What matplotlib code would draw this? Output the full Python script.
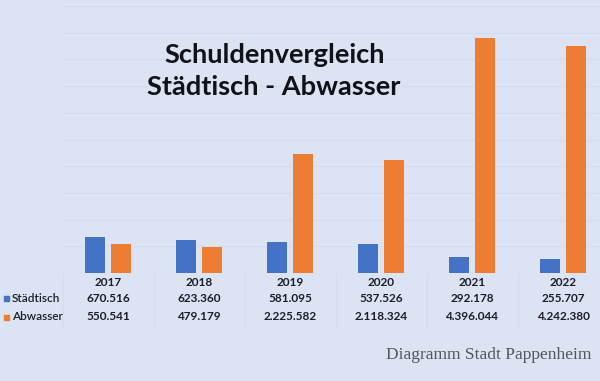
import matplotlib
matplotlib.use("Agg")
import matplotlib.pyplot as plt
from matplotlib.transforms import blended_transform_factory
import numpy as np

years = ["2017", "2018", "2019", "2020", "2021", "2022"]
staedtisch = [670516, 623360, 581095, 537526, 292178, 255707]
abwasser = [550541, 479179, 2225582, 2118324, 4396044, 4242380]
staedtisch_labels = ["670.516", "623.360", "581.095", "537.526", "292.178", "255.707"]
abwasser_labels = ["550.541", "479.179", "2.225.582", "2.118.324", "4.396.044", "4.242.380"]
series_names = ["Städtisch", "Abwasser"]
title_lines = ["Schuldenvergleich", "Städtisch - Abwasser"]
footer = "Diagramm Stadt Pappenheim"

BG = "#dce3f3"
BLUE = "#4472c4"
ORANGE = "#ed7d31"
TXT = "#1c1c2c"
LINE = "#d5dcef"
W, H = 600, 381

fig = plt.figure(figsize=(W / 100, H / 100), dpi=100, facecolor=BG)
ax = fig.add_axes([62.5 / W, 1 - 273 / H, (W - 62.5) / W, (273 - 6) / H])
ax.set_facecolor(BG)

x = np.arange(len(years))
bw = 0.21
off = 0.143
ax.bar(x - off, staedtisch, bw, color=BLUE, zorder=3)
ax.bar(x + off, abwasser, bw, color=ORANGE, zorder=3)

ax.set_xlim(-0.5, (W - 108) / 91)
ax.set_ylim(0, 5.0e6)
ax.set_yticks(np.arange(0.5e6, 5.01e6, 0.5e6))
ax.yaxis.grid(True, color=LINE, linewidth=0.8, zorder=0)
ax.set_xticks([])
ax.tick_params(left=False, labelleft=False)
for s in ax.spines.values():
    s.set_visible(False)

# Table below axis
tr = blended_transform_factory(ax.transData, fig.transFigure)
def fy(py):
    return 1 - py / H

font = "Lato"
fs = 8.5
for i, yr in enumerate(years):
    ax.text(i, fy(282.5), yr, transform=tr, ha="center", va="center",
            fontsize=fs, fontweight="bold", family=font, color=TXT)
    ax.text(i, fy(298.5), staedtisch_labels[i], transform=tr, ha="center", va="center",
            fontsize=fs, fontweight="bold", family=font, color=TXT)
    ax.text(i, fy(317), abwasser_labels[i], transform=tr, ha="center", va="center",
            fontsize=fs, fontweight="bold", family=font, color=TXT)

# vertical table separators
for b in np.arange(-0.5, len(years), 1.0):
    ax.plot([b, b], [fy(274), fy(328)], transform=tr, color=LINE,
            linewidth=0.8, clip_on=False)

# legend cells
fig.text(12 / W, fy(298.5), series_names[0], ha="left", va="center",
         fontsize=fs, family=font, fontweight="semibold", color=TXT)
fig.text(12 / W, fy(317), series_names[1], ha="left", va="center",
         fontsize=fs, family=font, fontweight="semibold", color=TXT)
fig.patches.append(plt.Rectangle((4 / W, fy(301)), 5 / W, 5 / H,
                                 transform=fig.transFigure, color=BLUE))
fig.patches.append(plt.Rectangle((4 / W, fy(319.5)), 5 / W, 5 / H,
                                 transform=fig.transFigure, color=ORANGE))

# title
fig.text(275 / W, fy(63.3), title_lines[0], ha="center", va="baseline",
         fontsize=19.6, fontweight="bold", family=font, color="#111118")
fig.text(274 / W, fy(95), title_lines[1], ha="center", va="baseline",
         fontsize=19.6, fontweight="bold", family=font, color="#111118")

# footer
fig.text(591 / W, fy(355), footer, ha="right", va="center",
         fontsize=12.5, family="Liberation Serif", color="#555560")

fig.savefig("out.png", dpi=100, facecolor=BG)
